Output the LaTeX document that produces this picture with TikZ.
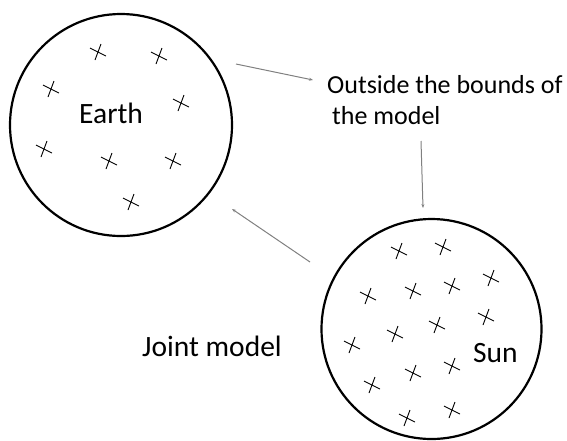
\documentclass[tikz,border=0pt]{standalone}
\usepackage{fontspec}
\setmainfont{Carlito}
\usetikzlibrary{arrows.meta}
\begin{document}
\begin{tikzpicture}[x=1pt,y=-1pt,
  ball/.style={circle,draw=black,line width=2.2pt,inner sep=0pt},
  xmark/.style={line width=0.9pt,black},
  conn/.style={draw={rgb,255:red,128;green,128;blue,128},line width=1pt,-{Stealth[length=4pt,width=3pt]}},
  lbl/.style={inner sep=0pt,anchor=base west,font=\fontsize{29.5}{33}\selectfont}]
\useasboundingbox (0,0) rectangle (567,440);
% circles
\node[ball,minimum size=222pt] (earth) at (121,125) {};
\node[ball,minimum size=220pt] (sun) at (431.5,329) {};
% crosses
\foreach \x/\y in {98/52,159/56,51/89,181/103,44/149,109/161,173/161,131/202,
  399/251,443/247,491/278,368/296,413/291,452/286,486/317,395/334,437/325,
  352/345,413/373,452/366,372/385,452/410,407/418}{
  \draw[xmark] (\x-8,\y-4) -- (\x+8,\y+4);
  \draw[xmark] (\x+3,\y-8) -- (\x-3,\y+8);
}
% labels
\node[lbl] (earthlbl) at (79,123) {Earth};
\node[lbl] (sunlbl) at (473,362) {Sun};
\node[lbl] (joint) at (142,356) {Joint model};
\node[inner sep=0pt,anchor=north west,align=left,font=\fontsize{26}{31}\selectfont] (outside) at (327,75)
  {Outside the bounds of\\\hspace*{5pt}the model};
% connectors
\coordinate (a1s) at (236,64);
\coordinate (a1e) at (313,80);
\coordinate (a2s) at (421,141);
\coordinate (a2e) at (423,208);
\coordinate (a3s) at (310,262);
\coordinate (a3e) at (232,209);
\draw[conn] (a1s) -- (a1e);
\draw[conn] (a2s) -- (a2e);
\draw[conn] (a3s) -- (a3e);
\end{tikzpicture}
\end{document}
